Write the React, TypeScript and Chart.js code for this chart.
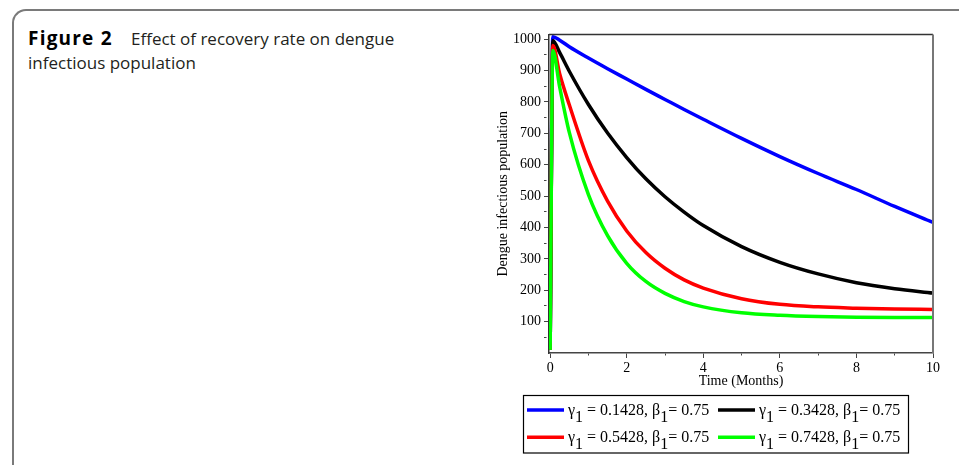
import React, { useEffect, useRef } from 'react';
import { Chart, registerables } from 'chart.js';

Chart.register(...registerables);

// ---- data ----
const timeMonths = [0, 0.07, 0.25, 0.5, 1, 1.5, 2, 2.5, 3, 3.5, 4, 5, 6, 7, 8, 9, 10];
const infectedGamma01428 = [10, 1008, 997, 976, 940, 906, 873, 840, 808, 776, 745, 684, 626, 572, 521, 467, 416];
const infectedGamma03428 = [10, 995, 957, 898, 792, 701, 623, 555, 498, 449, 406, 339, 289, 252, 224, 205, 191];
const infectedGamma05428 = [10, 980, 889, 791, 613, 484, 389, 320, 270, 233, 207, 173, 155, 147, 143, 140, 139];
const infectedGamma07428 = [10, 964, 847, 703, 505, 374, 286, 228, 190, 164, 147, 128, 120, 116, 114, 113, 113];
const gammaLabels = ['0.1428', '0.3428', '0.5428', '0.7428'];
const betaLabel = '0.75';
const seriesColors = ['#0000ff', '#000000', '#ff0000', '#00ff00'];
const xTickValues = [0, 1, 2, 3, 4, 5, 6, 7, 8, 9, 10];
const xLabeledTicks = [0, 2, 4, 6, 8, 10];
const yTickValues = [50, 100, 150, 200, 250, 300, 350, 400, 450, 500, 550, 600, 650, 700, 750, 800, 850, 900, 950, 1000];
const yLabeledTicks = [100, 200, 300, 400, 500, 600, 700, 800, 900, 1000];

const SERIF = '"Liberation Serif", "Times New Roman", serif';

const framePlugin = {
  id: 'frameAndLegend',
  afterDatasetsDraw(chart: any) {
    const { ctx, chartArea } = chart;
    ctx.save();
    ctx.lineWidth = 1.5;
    ctx.strokeStyle = '#333';
    ctx.beginPath();
    ctx.moveTo(chartArea.left, chartArea.top);
    ctx.lineTo(chartArea.right, chartArea.top);
    ctx.stroke();
    ctx.lineWidth = 2;
    ctx.strokeStyle = '#777';
    ctx.beginPath();
    ctx.moveTo(chartArea.right, chartArea.top);
    ctx.lineTo(chartArea.right, chartArea.bottom);
    ctx.stroke();
    ctx.restore();
  },
  afterDraw(chart: any) {
    const { ctx, chartArea } = chart;
    const boxL = chartArea.left - 26;
    const boxT = chartArea.bottom + 42;
    const boxW = 385;
    const boxH = 57.5;
    ctx.save();
    ctx.strokeStyle = '#000';
    ctx.lineWidth = 1.2;
    ctx.strokeRect(Math.round(boxL) + 0.5, Math.round(boxT) + 0.5, boxW, boxH);
    const colX = [boxL + 4, boxL + 195];
    const rowY = [boxT + 15, boxT + 42.3];
    chart.data.datasets.forEach((ds: any, i: number) => {
      const col = i % 2;
      const row = Math.floor(i / 2);
      const x0 = colX[col];
      const y = rowY[row];
      ctx.strokeStyle = ds.borderColor;
      ctx.lineWidth = 3.5;
      ctx.beginPath();
      ctx.moveTo(x0, y);
      ctx.lineTo(x0 + 37, y);
      ctx.stroke();
      ctx.fillStyle = '#000';
      ctx.font = '16px ' + SERIF;
      ctx.textBaseline = 'alphabetic';
      ctx.textAlign = 'left';
      let x = x0 + 41;
      const base = y + 5;
      const parts: [string, number][] = [
        ['\u03b3', 0],
        ['1', 7],
        [' = ' + gammaLabels[i] + ', \u03b2', 0],
        ['1', 7],
        ['= ' + betaLabel, 0],
      ];
      for (const [t, dy] of parts) {
        ctx.fillText(t, x, base + dy);
        x += ctx.measureText(t).width;
      }
    });
    ctx.restore();
  },
};

function toPoints(values: number[]) {
  return timeMonths.map((t, i) => ({ x: t, y: values[i] }));
}

export default function App() {
  const canvasRef = useRef<HTMLCanvasElement | null>(null);

  useEffect(() => {
    if (!canvasRef.current) return;
    const series = [infectedGamma01428, infectedGamma03428, infectedGamma05428, infectedGamma07428];
    const chart = new Chart(canvasRef.current, {
      type: 'line',
      data: {
        datasets: series.map((vals, i) => ({
          label: '\u03b31 = ' + gammaLabels[i] + ', \u03b21= ' + betaLabel,
          data: toPoints(vals),
          borderColor: seriesColors[i],
          backgroundColor: seriesColors[i],
          borderWidth: 3.5,
          pointRadius: 0,
          cubicInterpolationMode: 'monotone',
          fill: false,
          order: 3 - i,
        })),
      },
      options: {
        responsive: false,
        animation: false,
        devicePixelRatio: 1,
        layout: { padding: { left: 50, right: 26, top: 14.5, bottom: 75 } },
        plugins: {
          legend: { display: false },
          tooltip: { enabled: false },
        },
        scales: {
          x: {
            type: 'linear',
            min: -0.03,
            max: 10,
            afterBuildTicks: (s: any) => {
              s.ticks = xTickValues.map((v) => ({ value: v }));
            },
            afterFit: (s: any) => {
              s.height = 37;
            },
            ticks: {
              color: '#000',
              font: { family: SERIF, size: 14 },
              padding: 1.5,
              maxRotation: 0,
              autoSkip: false,
              callback: (v: any) => (xLabeledTicks.includes(Number(v)) ? String(v) : ''),
            },
            grid: {
              drawOnChartArea: false,
              tickLength: 5,
              tickColor: '#444',
              tickWidth: 1,
              tickBorderDash: (c: any) => (c.tick && xLabeledTicks.includes(c.tick.value) ? [] : [2, 50]),
            },
            border: { display: true, color: '#444', width: 1.5 },
            title: {
              display: true,
              text: 'Time (Months)',
              color: '#000',
              font: { family: SERIF, size: 14 },
              padding: { top: 0, bottom: 0 },
            },
          },
          y: {
            type: 'linear',
            min: 0,
            max: 1015,
            afterBuildTicks: (s: any) => {
              s.ticks = yTickValues.map((v) => ({ value: v }));
            },
            afterFit: (s: any) => {
              s.width = 59;
            },
            ticks: {
              color: '#000',
              font: { family: SERIF, size: 14 },
              padding: 3,
              autoSkip: false,
              callback: (v: any) => (yLabeledTicks.includes(Number(v)) ? String(v) : ''),
            },
            grid: {
              drawOnChartArea: false,
              tickLength: 5,
              tickColor: '#444',
              tickWidth: 1,
              tickBorderDash: (c: any) => (c.tick && yLabeledTicks.includes(c.tick.value) ? [] : [2.5, 50]),
            },
            border: { display: true, color: '#333', width: 1.5 },
            title: {
              display: true,
              text: 'Dengue infectious population',
              color: '#000',
              font: { family: SERIF, size: 14 },
              padding: { top: 5, bottom: 0 },
            },
          },
        },
      } as any,
      plugins: [framePlugin],
    });
    return () => chart.destroy();
  }, []);

  return (
    <div style={{ position: 'absolute', left: 0, top: 0, width: 959, height: 465, overflow: 'hidden', background: '#fff' }}>
      <div
        style={{
          position: 'absolute',
          left: 12,
          top: 9,
          width: 980,
          height: 500,
          borderTop: '2px solid #7a7a7a',
          borderLeft: '2px solid #7a7a7a',
          borderTopLeftRadius: 14,
        }}
      />
      <div
        style={{
          position: 'absolute',
          left: 28,
          top: 26,
          width: 440,
          fontFamily: '"Open Sans", "Noto Sans", sans-serif',
          fontSize: 17,
          lineHeight: '24px',
          color: '#231f20',
          whiteSpace: 'nowrap',
        }}
      >
        <span
          style={{
            display: 'inline-block',
            width: 103,
            fontWeight: 700,
            fontSize: 19,
            letterSpacing: '1.2px',
            color: '#000',
          }}
        >
          Figure 2
        </span>
        Effect of recovery rate on dengue
        <br />
        infectious population
      </div>
      <canvas
        ref={canvasRef}
        width={519}
        height={445}
        style={{ position: 'absolute', left: 440, top: 20, width: 519, height: 445 }}
      />
    </div>
  );
}
